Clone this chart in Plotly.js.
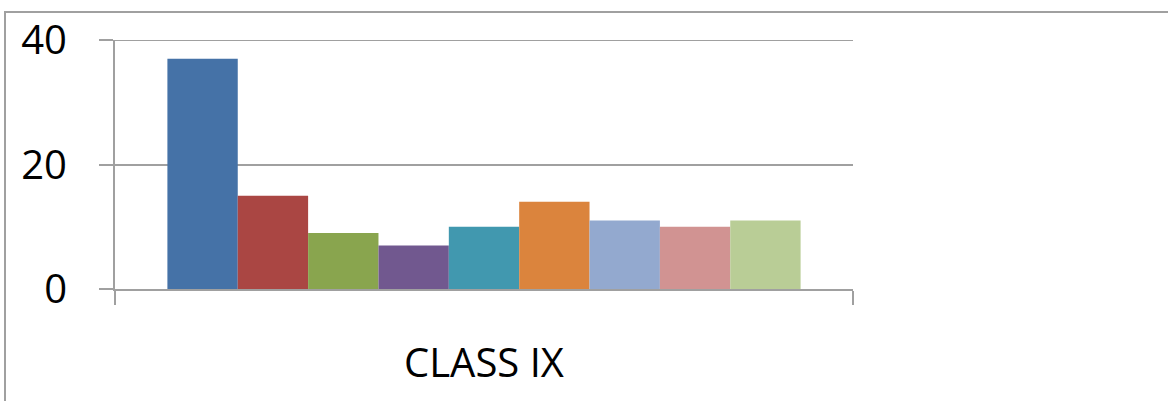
<!DOCTYPE html>
<html>
<head>
<meta charset="utf-8">
<script src="https://cdn.plot.ly/plotly-3.0.1.min.js"></script>
<style>
  html, body { margin: 0; padding: 0; background: #ffffff; }
  #wrap { position: relative; width: 1168px; height: 401px; overflow: hidden; }
  #chart { position: absolute; left: 0; top: 0; width: 1168px; height: 401px; }
  #frame { position: absolute; left: 4px; top: 11px; width: 1200px; height: 500px;
           border-left: 2px solid #a0a0a0; border-top: 2px solid #a0a0a0; pointer-events: none; }
</style>
</head>
<body>
<div id="wrap">
  <div id="chart"></div>
  <div id="frame"></div>
</div>
<script>
// One category, nine series drawn side by side
const categories = ["CLASS IX"];
const seriesNames = ["Series 1", "Series 2", "Series 3", "Series 4", "Series 5",
                     "Series 6", "Series 7", "Series 8", "Series 9"];
const seriesValues = [37, 15, 9, 7, 10, 14, 11, 10, 11];
const seriesColors = ["#4572A7", "#AA4643", "#89A54E", "#71588F", "#4198AF",
                      "#DB843D", "#93A9CF", "#D19392", "#B9CD96"];
const yTicks = [0, 20, 40];
const yMax = 40;

const traces = seriesNames.map((name, i) => ({
  type: "bar",
  name: name,
  x: categories,
  y: [seriesValues[i]],
  marker: { color: seriesColors[i], line: { width: 0 } },
  hoverinfo: "name+y"
}));

const font = { family: "Open Sans, Noto Sans, sans-serif", size: 40, color: "#000000" };
const lineGray = "#a0a0a0";

const layout = {
  width: 1168,
  height: 401,
  margin: { l: 115, r: 315, t: 40, b: 112, pad: 0 },
  paper_bgcolor: "#ffffff",
  plot_bgcolor: "#ffffff",
  showlegend: false,
  barmode: "group",
  bargap: 0.142,
  bargroupgap: 0,
  font: font,
  xaxis: {
    type: "category",
    tickson: "boundaries",
    ticks: "outside",
    ticklen: 14,
    tickwidth: 2,
    tickcolor: lineGray,
    showline: true,
    linecolor: lineGray,
    linewidth: 2,
    showgrid: false,
    ticklabelstandoff: 38,
    tickfont: font,
    fixedrange: true
  },
  yaxis: {
    range: [0, yMax],
    tickvals: yTicks,
    ticktext: yTicks.map(String),
    ticks: "outside",
    ticklen: 14,
    tickwidth: 2,
    tickcolor: lineGray,
    showline: true,
    linecolor: lineGray,
    linewidth: 2,
    showgrid: true,
    gridcolor: lineGray,
    gridwidth: 2,
    zeroline: false,
    ticklabelstandoff: 24,
    tickfont: font,
    fixedrange: true
  },
  // gridline at the top of the value range, which sits on the plot edge
  shapes: [{
    type: "line", xref: "paper", yref: "y",
    x0: 0, x1: 1, y0: yMax, y1: yMax,
    line: { color: lineGray, width: 2 },
    layer: "below"
  }]
};

Plotly.newPlot("chart", traces, layout, { displayModeBar: false, staticPlot: true });
</script>
</body>
</html>
